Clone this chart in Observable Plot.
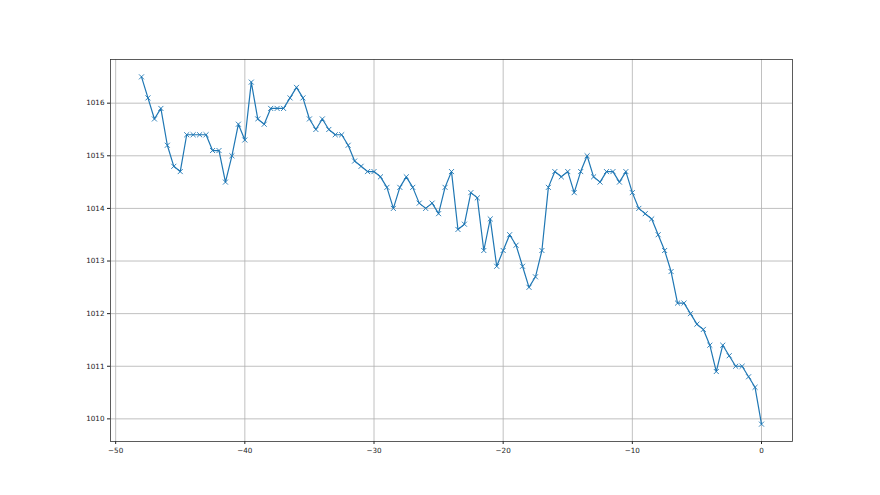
<!DOCTYPE html>
<html>
<head>
<meta charset="utf-8">
<script src="https://cdn.jsdelivr.net/npm/d3@7"></script>
<script src="https://cdn.jsdelivr.net/npm/@observablehq/plot@0.6"></script>
<style>
  html, body { margin: 0; padding: 0; background: #fff; }
  #chart svg { display: block; }
</style>
</head>
<body>
<div id="chart"></div>
<script>
const hours = [
  -48, -47.5, -47, -46.5, -46, -45.5, -45, -44.5, -44, -43.5, -43, -42.5, -42, -41.5, -41, -40.5,
  -40, -39.5, -39, -38.5, -38, -37.5, -37, -36.5, -36, -35.5, -35, -34.5, -34, -33.5, -33, -32.5,
  -32, -31.5, -31, -30.5, -30, -29.5, -29, -28.5, -28, -27.5, -27, -26.5, -26, -25.5, -25, -24.5,
  -24, -23.5, -23, -22.5, -22, -21.5, -21, -20.5, -20, -19.5, -19, -18.5, -18, -17.5, -17, -16.5,
  -16, -15.5, -15, -14.5, -14, -13.5, -13, -12.5, -12, -11.5, -11, -10.5, -10, -9.5, -9, -8.5,
  -8, -7.5, -7, -6.5, -6, -5.5, -5, -4.5, -4, -3.5, -3, -2.5, -2, -1.5, -1, -0.5, 0
];
const pressure = [
  1016.5, 1016.1, 1015.7, 1015.9, 1015.2, 1014.8, 1014.7, 1015.4, 1015.4, 1015.4, 1015.4, 1015.1, 1015.1, 1014.5, 1015.0, 1015.6,
  1015.3, 1016.4, 1015.7, 1015.6, 1015.9, 1015.9, 1015.9, 1016.1, 1016.3, 1016.1, 1015.7, 1015.5, 1015.7, 1015.5, 1015.4, 1015.4,
  1015.2, 1014.9, 1014.8, 1014.7, 1014.7, 1014.6, 1014.4, 1014.0, 1014.4, 1014.6, 1014.4, 1014.1, 1014.0, 1014.1, 1013.9, 1014.4,
  1014.7, 1013.6, 1013.7, 1014.3, 1014.2, 1013.2, 1013.8, 1012.9, 1013.2, 1013.5, 1013.3, 1012.9, 1012.5, 1012.7, 1013.2, 1014.4,
  1014.7, 1014.6, 1014.7, 1014.3, 1014.7, 1015.0, 1014.6, 1014.5, 1014.7, 1014.7, 1014.5, 1014.7, 1014.3, 1014.0, 1013.9, 1013.8,
  1013.5, 1013.2, 1012.8, 1012.2, 1012.2, 1012.0, 1011.8, 1011.7, 1011.4, 1010.9, 1011.4, 1011.2, 1011.0, 1011.0, 1010.8, 1010.6, 1009.9
];
const xTicks = [-50, -40, -30, -20, -10, 0];
const yTicks = [1010, 1011, 1012, 1013, 1014, 1015, 1016];

const data = hours.map((h, i) => ({ h, p: pressure[i] }));

// matplotlib-style 5% margins around data extent
const xMin = d3.min(hours), xMax = d3.max(hours);
const yMin = d3.min(pressure), yMax = d3.max(pressure);
const xPad = (xMax - xMin) * 0.05, yPad = (yMax - yMin) * 0.05;

const fmt = d3.format("d");
const color = "#1f77b4";

const chart = Plot.plot({
  width: 880,
  height: 495,
  marginLeft: 110,
  marginRight: 88,
  marginTop: 59,
  marginBottom: 54,
  style: { fontFamily: "DejaVu Sans, sans-serif", fontSize: "7px", color: "#000", background: "#fff" },
  x: { domain: [xMin - xPad, xMax + xPad], label: null },
  y: { domain: [yMin - yPad, yMax + yPad], label: null },
  marks: [
    Plot.gridX(xTicks, { stroke: "#b0b0b0", strokeOpacity: 1, strokeWidth: 0.8 }),
    Plot.gridY(yTicks, { stroke: "#b0b0b0", strokeOpacity: 1, strokeWidth: 0.8 }),
    Plot.line(data, { x: "h", y: "p", stroke: color, strokeWidth: 1.2 }),
    Plot.dot(data, { x: "h", y: "p", symbol: "times", r: 2.4, stroke: color, strokeWidth: 0.9 }),
    Plot.axisX(xTicks, { tickSize: 3, tickPadding: 3, tickFormat: fmt, stroke: "#222", fill: "#222", fontSize: 7.2 }),
    Plot.axisY(yTicks, { tickSize: 3, tickPadding: 3, tickFormat: fmt, stroke: "#222", fill: "#222", fontSize: 7.2 }),
    Plot.frame({ stroke: "#333", strokeWidth: 0.8 })
  ]
});

document.getElementById("chart").appendChild(chart);
</script>
</body>
</html>
